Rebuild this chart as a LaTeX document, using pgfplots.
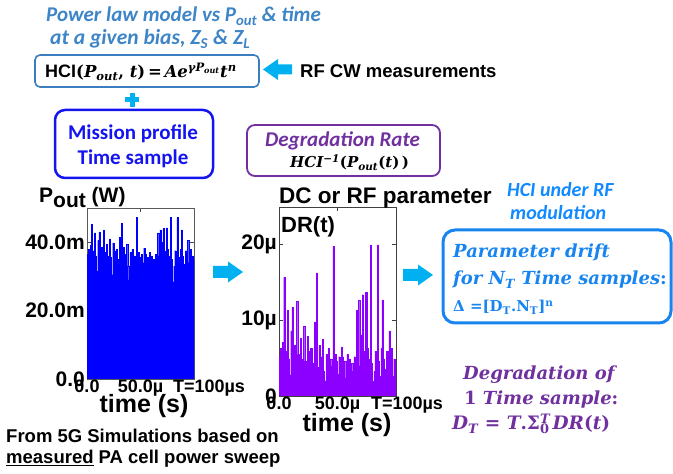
\documentclass[border=0pt]{standalone}
\usepackage{fontspec}
\usepackage{pgfplots}
\usepackage{pgfplotstable}
\pgfplotsset{compat=1.18}
\setmainfont{Liberation Sans}
\newfontfamily\calfont{Carlito}
\newfontfamily\camfont{DejaVu Serif}
\definecolor{pwrblue}{RGB}{61,133,198}
\definecolor{boxblue}{RGB}{58,126,192}
\definecolor{cyanar}{RGB}{0,176,240}
\definecolor{misblue}{RGB}{20,20,240}
\definecolor{purp}{RGB}{112,48,160}
\definecolor{hciblue}{RGB}{17,138,255}
\definecolor{pdblue}{RGB}{24,132,240}
\definecolor{violetfill}{RGB}{140,0,255}
\newcommand{\fs}[1]{\fontsize{#1bp}{#1bp}\selectfont}

\pgfplotstableread{
t P DR
0 36.5 5.2
1 38.0 6.3
2 34.0 3.8
3 39.0 7.1
4 45.3 15.7
5 33.0 3.3
6 37.5 5.9
7 42.7 11.3
8 36.0 4.9
9 31.5 2.8
10 40.5 8.6
11 43.0 11.8
12 35.0 4.3
13 38.5 6.7
14 33.5 3.6
15 43.5 12.5
16 37.0 5.5
17 34.5 4.0
18 39.5 7.6
19 32.0 2.9
20 36.0 4.9
21 41.0 9.2
22 35.5 4.6
23 30.5 2.4
24 39.8 7.9
25 37.5 5.9
26 33.0 3.3
27 38.0 6.3
28 35.0 4.3
29 30.0 2.3
30 41.5 9.8
31 36.0 4.9
32 45.6 16.3
33 34.0 3.8
34 38.5 6.7
35 32.5 3.1
36 36.5 5.2
37 39.4 7.5
38 33.0 3.3
39 29.0 2.0
40 37.0 5.5
41 35.0 4.3
42 38.0 6.3
43 31.5 2.8
44 36.0 4.9
45 34.5 4.0
46 47.2 19.8
47 33.5 3.6
48 37.0 5.5
49 35.5 4.6
50 32.0 2.9
51 36.5 5.2
52 34.0 3.8
53 38.3 6.5
54 36.5 5.2
55 33.0 3.3
56 35.5 4.6
57 30.5 2.4
58 37.0 5.5
59 34.0 3.8
60 36.0 4.9
61 27.8 1.7
62 35.0 4.3
63 33.0 3.3
64 36.5 5.2
65 31.0 2.6
66 42.7 11.3
67 36.0 4.9
68 43.6 12.7
69 34.5 4.0
70 40.0 8.1
71 44.0 13.4
72 37.5 5.9
73 27.5 1.7
74 44.2 13.7
75 38.0 6.3
76 36.0 4.9
77 30.0 2.3
78 47.2 20.0
79 35.0 4.3
80 28.4 1.9
81 33.0 3.3
82 37.5 5.9
83 32.0 2.9
84 47.2 20.0
85 35.5 4.6
86 31.0 2.6
87 38.0 6.3
88 43.6 12.7
89 36.0 4.9
90 33.5 3.6
91 29.5 2.1
92 37.5 5.9
93 35.0 4.3
94 40.5 8.6
95 34.0 3.8
96 38.0 6.3
97 31.0 2.6
98 36.0 4.9
99 35.0 4.3
100 35.0 4.3
}\datatab

\begin{document}
\begin{tikzpicture}[x=1bp,y=1bp]
\path[use as bounding box] (0,0) rectangle (673,474);

% ---------- left plot ----------
\begin{axis}[at={(87bp,95bp)}, anchor=south west, scale only axis,
  width=107bp, height=171bp, xmin=0, xmax=100, ymin=0, ymax=50,
  xtick={0,50,100}, xticklabels={0.0,50.0µ,\hspace*{30bp}T=100µs},
  ytick={0,20,40}, yticklabels={0.0,20.0m,40.0m},
  axis line style={black!65, line width=0.8pt}, tick style={black!70, line width=0.8pt},
  major tick length=4bp,
  xticklabel style={font=\fs{18}\bfseries, inner sep=1bp},
  yticklabel style={font=\fs{21}\bfseries, inner sep=2bp},
  /pgf/number format/assume math mode=true]
\addplot[const plot, fill=blue, draw=blue, line width=0.3pt] table[x=t,y=P]{\datatab} \closedcycle;
\end{axis}

% ---------- right plot ----------
\begin{axis}[at={(279bp,78bp)}, anchor=south west, scale only axis,
  width=117bp, height=189bp, xmin=0, xmax=100, ymin=0, ymax=25,
  xtick={0,50,100}, xticklabels={0.0,50.0µ,\hspace*{22bp}T=100µs},
  ytick={0,10,20}, yticklabels={0,10µ,20µ},
  axis line style={black!75, line width=0.8pt}, tick style={black!75, line width=0.8pt},
  major tick length=4bp,
  xticklabel style={font=\fs{18}\bfseries, inner sep=1bp},
  yticklabel style={font=\fs{21}\bfseries, inner sep=2bp},
  /pgf/number format/assume math mode=true]
\addplot[const plot, fill=violetfill, draw=violetfill, line width=0.3pt] table[x=t,y=DR]{\datatab} \closedcycle;
\end{axis}

% ---------- plot labels ----------
\node[anchor=base west, inner sep=0] at (39,271) {\fs{21}\bfseries P\raisebox{-5bp}{out} (W)};
\node[anchor=base, inner sep=0] at (144,61) {\fs{25}\bfseries time (s)};
\node[anchor=base, inner sep=0] at (347,42) {\fs{25}\bfseries time (s)};
\node[anchor=base west, inner sep=0] at (279,270) {\fs{22.5}\bfseries DC or RF parameter};
\node[anchor=base west, inner sep=0] at (281,241) {\fs{22}\bfseries DR(t)};

% ---------- top texts ----------
\node[anchor=base west, inner sep=0, text=pwrblue] at (46,452) {\calfont\fs{21}\bfseries\itshape Power law model vs P\textsubscript{out} \& time};
\node[anchor=base west, inner sep=0, text=pwrblue] at (50,429) {\calfont\fs{21.5}\bfseries\itshape at a given bias, Z\textsubscript{S} \& Z\textsubscript{L}};

\draw[boxblue, line width=1.6bp, rounded corners=5bp] (35,387) rectangle (259,419);
\node[anchor=base west, inner sep=0] at (45,396) {\fs{18}\bfseries HCI{\camfont\fs{16.5}\bfseries (\textit{P\textsubscript{out}}, \textit{t})\,=\,\textit{Ae\textsuperscript{γP\textsubscript{out}}t\textsuperscript{n}}}};

\fill[cyanar] (263,404.5) -- (278,415) -- (278,409.5) -- (292,409.5) -- (292,399.5) -- (278,399.5) -- (278,394) -- cycle;
\node[anchor=base west, inner sep=0] at (300,396) {\fs{18.5}\bfseries RF CW measurements};

\fill[cyanar] (125,371.5) rectangle (139,376.5);
\fill[cyanar] (129.5,367) rectangle (134.5,381);

\draw[misblue, line width=2.5bp, rounded corners=10bp] (55,296) rectangle (213,364);
\node[anchor=base, inner sep=0, text=misblue] at (133,334) {\calfont\fs{21}\bfseries Mission profile};
\node[anchor=base, inner sep=0, text=misblue] at (133,309) {\calfont\fs{21}\bfseries Time sample};

\draw[purp, line width=1.8bp, rounded corners=8bp] (247,298) rectangle (440,349);
\node[anchor=base west, inner sep=0, text=purp] at (265,327) {\calfont\fs{21}\bfseries\itshape Degradation Rate};
\node[anchor=base west, inner sep=0] at (290,306) {\camfont\fs{15}\bfseries\itshape HCI\textsuperscript{−1}\textup{(}P\textsubscript{out}\textup{(}t\textup{)\,)}};

% arrows to the right
\fill[cyanar] (243,202) -- (228,212.5) -- (228,208) -- (213,208) -- (213,196) -- (228,196) -- (228,191.5) -- cycle;
\fill[cyanar] (433,199) -- (418,209.5) -- (418,205) -- (403,205) -- (403,193) -- (418,193) -- (418,188.5) -- cycle;

% right texts
\node[anchor=base west, inner sep=0, text=hciblue] at (507,277) {\calfont\fs{20}\bfseries\itshape HCI under RF};
\node[anchor=base west, inner sep=0, text=hciblue] at (510,254) {\calfont\fs{20}\bfseries\itshape modulation};

\draw[pdblue, line width=3bp, rounded corners=12bp] (443,151) rectangle (671,244);
\node[anchor=base west, inner sep=0, text=pdblue] at (453,216) {\camfont\fs{18}\bfseries\itshape Parameter drift};
\node[anchor=base west, inner sep=0, text=pdblue] at (453,189) {\camfont\fs{18}\bfseries\itshape for N\textsubscript{T} Time samples\textup{:}};
\node[anchor=base west, inner sep=0, text=pdblue] at (453,162) {\camfont\fs{15}\bfseries Δ =[D\textsubscript{T}.N\textsubscript{T}]\textsuperscript{n}};

\node[anchor=base west, inner sep=0, text=purp] at (463,94) {\camfont\fs{18}\bfseries\itshape Degradation of};
\node[anchor=base west, inner sep=0, text=purp] at (464,69) {\camfont\fs{18}\bfseries\itshape \textup{1} Time sample\textup{:}};
\node[anchor=base west, inner sep=0, text=purp] at (452,44) {\camfont\fs{18.5}\bfseries\itshape D\textsubscript{T} \textup{=} T\textup{.}\textup{Σ}\rlap{\textsuperscript{T}}\textsubscript{\textup{0}}\,DR\textup{(}t\textup{)}};

% bottom text
\node[anchor=base west, inner sep=0] at (6,31) {\fs{18.5}\bfseries From 5G Simulations based on};
\node[anchor=base west, inner sep=0] at (6,10) {\fs{18.5}\bfseries \underline{measured} PA cell power sweep};
\end{tikzpicture}
\end{document}
